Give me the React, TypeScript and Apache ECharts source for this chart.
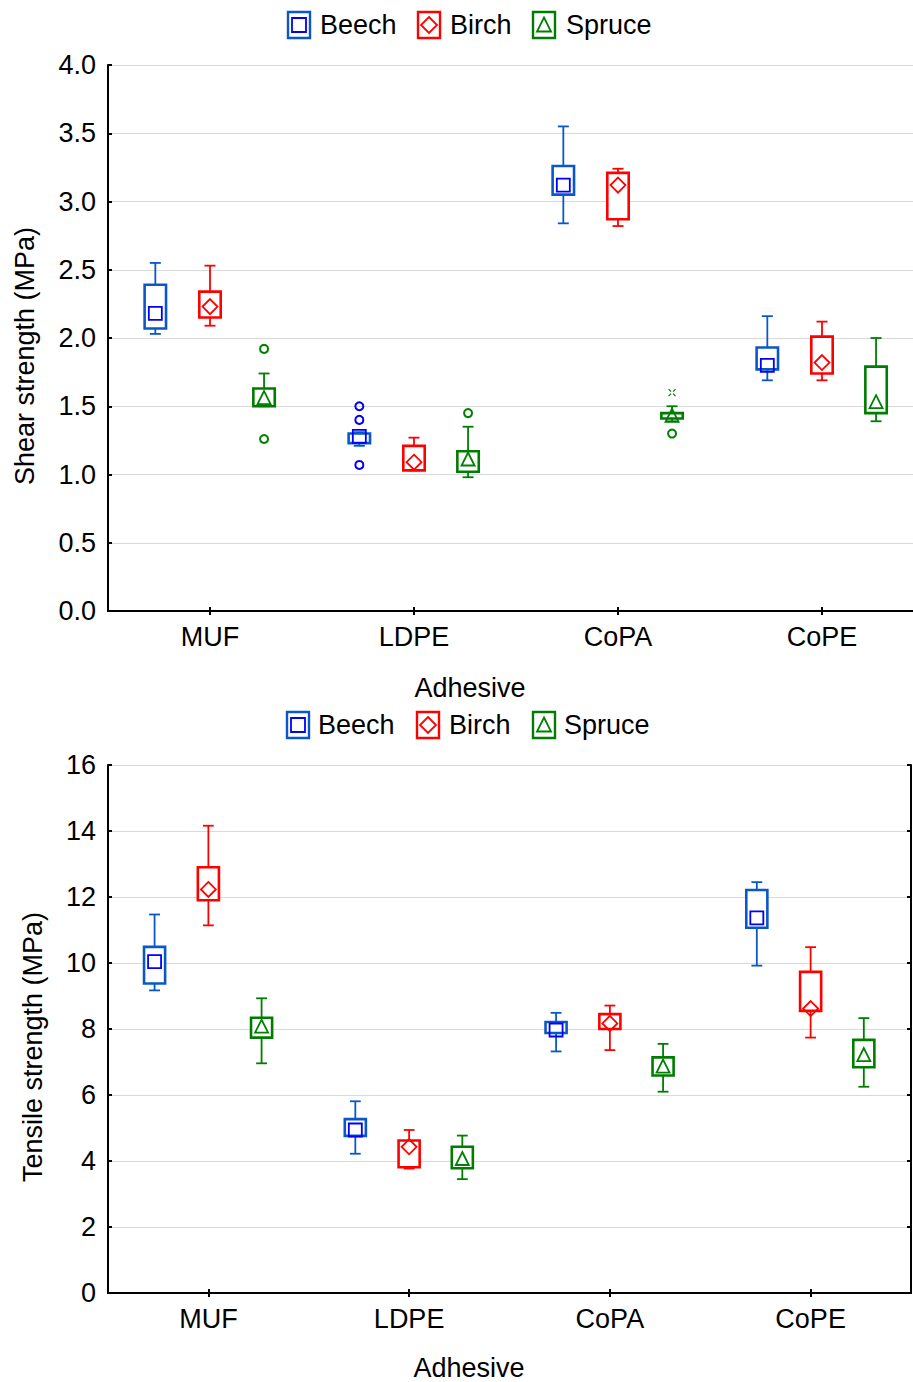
import React, { useEffect, useRef } from "react";
import * as echarts from "echarts";

const categories = ["MUF", "LDPE", "CoPA", "CoPE"];
const speciesNames = ["Beech", "Birch", "Spruce"];
const shearTicks = [0, 4, 0.5];
const tensileTicks = [0, 16, 2];

// each row: [min, q1, median, q3, max] for MUF, LDPE, CoPA, CoPE
const shearBeech = [
  [2.03, 2.07, 2.18, 2.39, 2.55],
  [1.21, 1.23, 1.28, 1.30, 1.31],
  [2.84, 3.05, 3.12, 3.26, 3.55],
  [1.69, 1.77, 1.80, 1.93, 2.16],
];
const shearBirch = [
  [2.09, 2.15, 2.23, 2.34, 2.53],
  [1.03, 1.03, 1.09, 1.21, 1.27],
  [2.82, 2.87, 3.12, 3.21, 3.24],
  [1.69, 1.74, 1.82, 2.01, 2.12],
];
const shearSpruce = [
  [1.50, 1.50, 1.56, 1.63, 1.74],
  [0.98, 1.02, 1.11, 1.17, 1.35],
  [1.39, 1.41, 1.43, 1.45, 1.50],
  [1.39, 1.45, 1.53, 1.79, 2.00],
];
// [categoryIndex, value]
const shearBeechOutliers = [[1, 1.50], [1, 1.40], [1, 1.07]];
const shearSpruceOutliers = [[0, 1.92], [0, 1.26], [1, 1.45], [2, 1.30]];
const shearSpruceExtremes = [[2, 1.60]];

const tensileBeech = [
  [9.17, 9.38, 10.04, 10.49, 11.47],
  [4.22, 4.76, 4.94, 5.27, 5.81],
  [7.32, 7.88, 7.97, 8.21, 8.49],
  [9.92, 11.07, 11.37, 12.21, 12.45],
];
const tensileBirch = [
  [11.14, 11.90, 12.23, 12.90, 14.16],
  [3.77, 3.81, 4.43, 4.62, 4.94],
  [7.36, 8.00, 8.17, 8.45, 8.71],
  [7.74, 8.55, 8.62, 9.73, 10.48],
];
const tensileSpruce = [
  [6.96, 7.74, 8.07, 8.34, 8.93],
  [3.45, 3.78, 4.06, 4.43, 4.77],
  [6.10, 6.59, 6.86, 7.14, 7.55],
  [6.25, 6.84, 7.21, 7.67, 8.33],
];

const FONT = "'Liberation Sans', Arial, Helvetica, sans-serif";
const styles = [
  { line: "#0a58c8", marker: "#0000ff", shape: "square", offset: -0.268 },
  { line: "#ff0000", marker: "#ff0000", shape: "diamond", offset: 0 },
  { line: "#007d00", marker: "#008000", shape: "triangle", offset: 0.265 },
];

function markerShape(shape: string, cx: number, cy: number, color: string, s = 6.5) {
  const style = { stroke: color, fill: "none", lineWidth: 1.8 };
  if (shape === "square") {
    return { type: "rect", shape: { x: cx - s, y: cy - s, width: 2 * s, height: 2 * s }, style };
  }
  if (shape === "diamond") {
    const d = s + 1;
    return {
      type: "polygon",
      shape: { points: [[cx, cy - d], [cx + d, cy], [cx, cy + d], [cx - d, cy]] },
      style,
    };
  }
  return {
    type: "polygon",
    shape: { points: [[cx, cy - s - 0.5], [cx + s, cy + s - 0.5], [cx - s, cy + s - 0.5]] },
    style,
  };
}

function boxRender(st: any) {
  return (params: any, api: any) => {
    const cat = api.value(0);
    const mn = api.value(1), q1 = api.value(2), md = api.value(3), q3 = api.value(4), mx = api.value(5);
    const band = api.size([1, 0])[0];
    const cx = api.coord([cat, md])[0] + band * st.offset;
    const y = (v: number) => api.coord([cat, v])[1];
    const bw = band * 0.105;
    const cw = band * 0.054;
    const ls = { stroke: st.line, lineWidth: 1.8 };
    return {
      type: "group",
      children: [
        { type: "line", shape: { x1: cx, y1: y(mx), x2: cx, y2: y(q3) }, style: ls },
        { type: "line", shape: { x1: cx, y1: y(q1), x2: cx, y2: y(mn) }, style: ls },
        { type: "line", shape: { x1: cx - cw / 2, y1: y(mx), x2: cx + cw / 2, y2: y(mx) }, style: ls },
        { type: "line", shape: { x1: cx - cw / 2, y1: y(mn), x2: cx + cw / 2, y2: y(mn) }, style: ls },
        {
          type: "rect",
          shape: { x: cx - bw / 2, y: y(q3), width: bw, height: y(q1) - y(q3) },
          style: { stroke: st.line, lineWidth: 2.6, fill: "#ffffff" },
        },
        markerShape(st.shape, cx, y(md), st.marker),
      ],
    };
  };
}

function outlierRender(st: any, extreme: boolean) {
  return (params: any, api: any) => {
    const cat = api.value(0);
    const v = api.value(1);
    const band = api.size([1, 0])[0];
    const p = api.coord([cat, v]);
    const cx = p[0] + band * st.offset;
    const cy = p[1];
    if (extreme) {
      const s = 3.5;
      const ls = { stroke: st.line, lineWidth: 1.3 };
      return {
        type: "group",
        children: [
          { type: "line", shape: { x1: cx - s, y1: cy - s, x2: cx - 1, y2: cy - 1 }, style: ls },
          { type: "line", shape: { x1: cx + s, y1: cy - s, x2: cx + 1, y2: cy - 1 }, style: ls },
          { type: "line", shape: { x1: cx - s, y1: cy + s, x2: cx - 1, y2: cy + 1 }, style: ls },
          { type: "line", shape: { x1: cx + s, y1: cy + s, x2: cx + 1, y2: cy + 1 }, style: ls },
        ],
      };
    }
    return {
      type: "circle",
      shape: { cx, cy, r: 4 },
      style: { stroke: st.marker, fill: "none", lineWidth: 2 },
    };
  };
}

function legend(y: number, iconX: number[], textX: number[]) {
  const els: any[] = [];
  styles.forEach((st, i) => {
    els.push({
      type: "rect",
      shape: { x: iconX[i], y: y - 13, width: 22, height: 26 },
      style: { stroke: st.line, lineWidth: 2.4, fill: "#ffffff" },
    });
    els.push(markerShape(st.shape, iconX[i] + 11, y, st.marker, 7));
    els.push({
      type: "text",
      x: textX[i],
      y,
      style: {
        text: speciesNames[i],
        fill: "#000",
        font: `27px ${FONT}`,
        textAlign: "left",
        textVerticalAlign: "middle",
      },
    });
  });
  return els;
}

function makeAxes(gridIndex: number, ticks: number[], fmt: (v: number) => string) {
  const axisLine = { show: true, lineStyle: { color: "#000", width: 2 } };
  const tick = { show: true, inside: true, length: 4, lineStyle: { color: "#000", width: 2 } };
  const x = [
    {
      type: "category", gridIndex, data: categories, position: "bottom",
      axisLine, axisTick: { ...tick, alignWithLabel: true },
      axisLabel: { color: "#000", fontSize: 27, fontFamily: FONT, margin: 12 },
      splitLine: { show: false },
    },
    {
      type: "category", gridIndex, data: categories, position: "top",
      axisLine, axisTick: { ...tick, alignWithLabel: true },
      axisLabel: { show: false }, splitLine: { show: false },
    },
  ];
  const y = [
    {
      type: "value", gridIndex, min: ticks[0], max: ticks[1], interval: ticks[2], position: "left",
      axisLine, axisTick: tick,
      axisLabel: { color: "#000", fontSize: 27, fontFamily: FONT, margin: 12, formatter: fmt },
      splitLine: { show: true, lineStyle: { color: "#dadada", width: 1 } },
    },
    {
      type: "value", gridIndex, min: ticks[0], max: ticks[1], interval: ticks[2], position: "right",
      axisLine, axisTick: tick, axisLabel: { show: false }, splitLine: { show: false },
    },
  ];
  return { x, y };
}

function toData(rows: number[][]) {
  return rows.map((r, i) => [i, ...r]);
}

export default function App() {
  const ref = useRef<HTMLDivElement>(null);
  useEffect(() => {
    if (!ref.current) return;
    const chart = echarts.init(ref.current, null, { renderer: "svg" });
    const a1 = makeAxes(0, shearTicks, (v) => v.toFixed(1));
    const a2 = makeAxes(1, tensileTicks, (v) => String(v));
    const shearSets = [shearBeech, shearBirch, shearSpruce];
    const tensileSets = [tensileBeech, tensileBirch, tensileSpruce];
    const series: any[] = [];
    shearSets.forEach((rows, i) => {
      series.push({
        type: "custom", name: speciesNames[i], xAxisIndex: 0, yAxisIndex: 0,
        renderItem: boxRender(styles[i]), data: toData(rows),
        encode: { x: 0, y: [1, 2, 3, 4, 5] }, clip: false,
      });
    });
    tensileSets.forEach((rows, i) => {
      series.push({
        type: "custom", name: speciesNames[i], xAxisIndex: 2, yAxisIndex: 2,
        renderItem: boxRender(styles[i]), data: toData(rows),
        encode: { x: 0, y: [1, 2, 3, 4, 5] }, clip: false,
      });
    });
    series.push({
      type: "custom", xAxisIndex: 0, yAxisIndex: 0, renderItem: outlierRender(styles[0], false),
      data: shearBeechOutliers, encode: { x: 0, y: 1 },
    });
    series.push({
      type: "custom", xAxisIndex: 0, yAxisIndex: 0, renderItem: outlierRender(styles[2], false),
      data: shearSpruceOutliers, encode: { x: 0, y: 1 },
    });
    series.push({
      type: "custom", xAxisIndex: 0, yAxisIndex: 0, renderItem: outlierRender(styles[2], true),
      data: shearSpruceExtremes, encode: { x: 0, y: 1 },
    });

    chart.setOption({
      animation: false,
      backgroundColor: "#ffffff",
      textStyle: { fontFamily: FONT },
      grid: [
        { left: 108, top: 65, width: 816, height: 546, containLabel: false, outerBoundsMode: "none" },
        { left: 108, top: 765, width: 803, height: 528, containLabel: false, outerBoundsMode: "none" },
      ],
      xAxis: [...a1.x, ...a2.x],
      yAxis: [...a1.y, ...a2.y],
      series,
      graphic: [
        ...legend(25, [288, 418, 533], [320, 450, 566]),
        ...legend(725, [287, 417, 533], [318, 449, 564]),
        {
          type: "text", x: 25, y: 356, rotation: Math.PI / 2,
          style: { text: "Shear strength (MPa)", fill: "#000", font: `27px ${FONT}`, textAlign: "center", textVerticalAlign: "middle" },
        },
        {
          type: "text", x: 33, y: 1047, rotation: Math.PI / 2,
          style: { text: "Tensile strength (MPa)", fill: "#000", font: `27px ${FONT}`, textAlign: "center", textVerticalAlign: "middle" },
        },
        {
          type: "text", x: 470, y: 688,
          style: { text: "Adhesive", fill: "#000", font: `27px ${FONT}`, textAlign: "center", textVerticalAlign: "middle" },
        },
        {
          type: "text", x: 469, y: 1368,
          style: { text: "Adhesive", fill: "#000", font: `27px ${FONT}`, textAlign: "center", textVerticalAlign: "middle" },
        },
      ],
    });
    return () => chart.dispose();
  }, []);
  return (
    <div
      ref={ref}
      style={{ position: "absolute", left: 0, top: 0, width: 913, height: 1382 }}
    />
  );
}
